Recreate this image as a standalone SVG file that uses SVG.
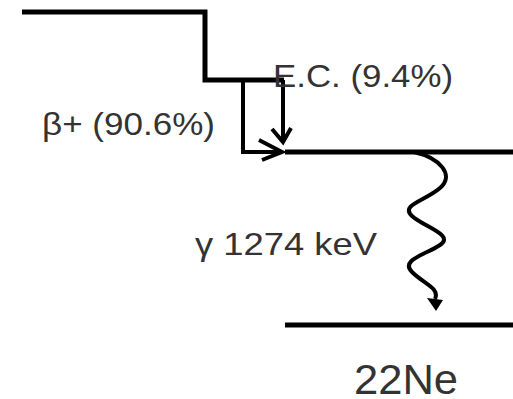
<svg xmlns="http://www.w3.org/2000/svg" width="513" height="399" viewBox="0 0 513 399">
<style>
.ln{fill:none;stroke:#000;stroke-width:5;stroke-linecap:butt;stroke-linejoin:miter}
.ar{fill:none;stroke:#000;stroke-width:4}
.t{font-family:"Liberation Sans",Arial,sans-serif;fill:#333}
</style>
<rect width="513" height="399" fill="#fff"/>
<g id="level-parent">
<path class="ln" d="M22,12 H205 V80 H284"/>
</g>
<g id="level-excited">
<path class="ln" d="M285,152 H513"/>
</g>
<g id="level-ground">
<path class="ln" d="M285,325 H513"/>
</g>
<g id="connectors">
<path class="ar" d="M243,80 V152 H281"/>
<path class="ar" d="M259,140 L282,152 L262,160"/>
<path class="ar" d="M283,80 V141"/>
<path class="ar" d="M272,129 L283,142 L291,128"/>
<path class="ar" d="M414,152 C440,158 455,175 440,188 S400,205 412,216 S455,235 440,245 S400,260 412,272 S440,288 435,299"/>
<path d="M427,298 L443,300 L436,311 Z" fill="#000"/>
</g>
<g id="labels">
<text class="t" x="273" y="87" font-size="32" textLength="180" lengthAdjust="spacingAndGlyphs">E.C. (9.4%)</text>
<text class="t" x="42" y="135" font-size="32" textLength="173" lengthAdjust="spacingAndGlyphs">β+ (90.6%)</text>
<text class="t" x="195" y="255" font-size="32" textLength="182" lengthAdjust="spacingAndGlyphs">γ 1274 keV</text>
<text class="t" x="354" y="394" font-size="42" textLength="104" lengthAdjust="spacingAndGlyphs">22Ne</text>
</g>
</svg>
